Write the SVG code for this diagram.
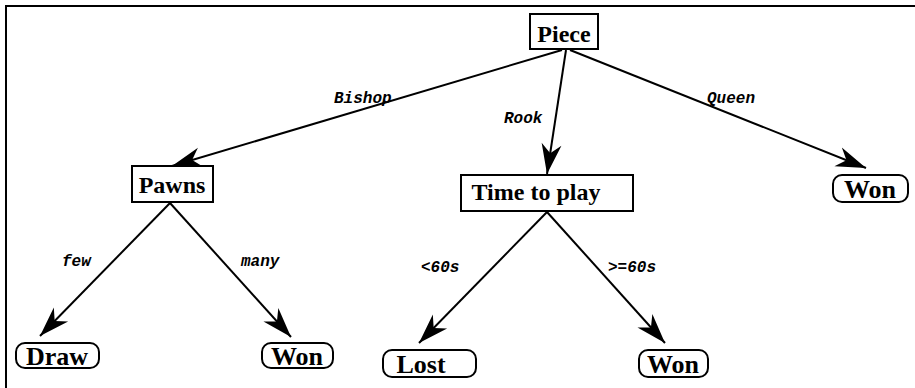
<svg xmlns="http://www.w3.org/2000/svg" width="915" height="388" viewBox="0 0 915 388">
<defs>
<marker id="ah" markerUnits="userSpaceOnUse" markerWidth="34" markerHeight="24" viewBox="-32 -12 34 24" refX="0" refY="0" orient="auto">
<path d="M0,0 L-30,-10 L-21,0 L-30,10 Z" fill="#000"/>
</marker>
<style>
.box{fill:#fff;stroke:#000;stroke-width:2}
.nt{font-family:"Liberation Serif","Times New Roman",serif;font-weight:bold;font-size:24px;fill:#000}
.lt{font-family:"Liberation Serif","Times New Roman",serif;font-weight:bold;font-size:26px;fill:#000}
.el{font-family:"Liberation Mono","Courier New",monospace;font-weight:bold;font-style:italic;font-size:16px;fill:#000}
.edge{stroke:#000;stroke-width:2;fill:none;marker-end:url(#ah)}
</style>
</defs>
<rect width="915" height="388" fill="#fff"/>
<path d="M6,388 L6,6 L915,6" fill="none" stroke="#000" stroke-width="2"/>
<g id="connectors">
<line class="edge" x1="562" y1="50" x2="172" y2="166"/>
<line class="edge" x1="566" y1="50" x2="547" y2="174"/>
<line class="edge" x1="570" y1="50" x2="866" y2="168"/>
<line class="edge" x1="170" y1="203" x2="40" y2="336"/>
<line class="edge" x1="170" y1="203" x2="291" y2="337"/>
<line class="edge" x1="547" y1="212" x2="419" y2="343"/>
<line class="edge" x1="547" y1="212" x2="665" y2="343"/>
<text class="el" x="334" y="103">Bishop</text>
<text class="el" x="504" y="123">Rook</text>
<text class="el" x="707" y="103">Queen</text>
<text class="el" x="62" y="266">few</text>
<text class="el" x="241" y="266">many</text>
<text class="el" x="421" y="272">&lt;60s</text>
<text class="el" x="608" y="272">&gt;=60s</text>
</g>
<g id="piece">
<rect class="box" x="530" y="14" width="68" height="35"/>
<text class="nt" x="564" y="42" text-anchor="middle">Piece</text>
</g>
<g id="pawns">
<rect class="box" x="132" y="166" width="81" height="36"/>
<text class="nt" x="172" y="193" text-anchor="middle">Pawns</text>
</g>
<g id="time">
<rect class="box" x="461" y="175" width="172" height="36"/>
<text class="nt" x="536" y="200" text-anchor="middle">Time to play</text>
</g>
<g id="won1">
<rect class="box" x="833" y="175" width="75" height="27" rx="9"/>
<text class="lt" x="870" y="198" text-anchor="middle">Won</text>
</g>
<g id="draw">
<rect class="box" x="16" y="343" width="83" height="25" rx="9"/>
<text class="lt" x="57" y="365" text-anchor="middle">Draw</text>
</g>
<g id="won2">
<rect class="box" x="262" y="343" width="71" height="25" rx="9"/>
<text class="lt" x="297" y="365" text-anchor="middle">Won</text>
</g>
<g id="lost">
<rect class="box" x="383" y="350" width="93" height="27" rx="9"/>
<text class="lt" x="421" y="373" text-anchor="middle">Lost</text>
</g>
<g id="won3">
<rect class="box" x="639" y="350" width="69" height="27" rx="9"/>
<text class="lt" x="673" y="373" text-anchor="middle">Won</text>
</g>
</svg>
